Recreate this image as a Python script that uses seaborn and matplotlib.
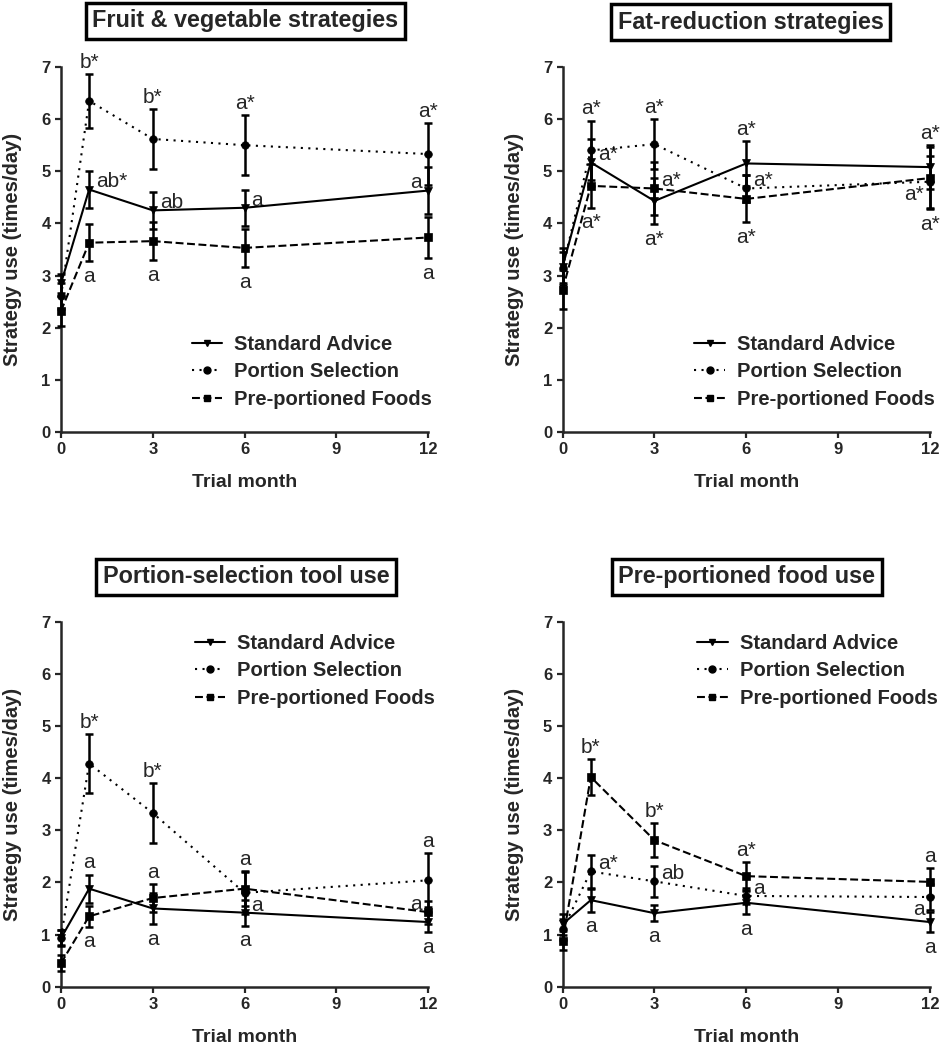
import matplotlib
matplotlib.use("Agg")
import matplotlib.pyplot as plt
from matplotlib.lines import Line2D
import pandas as pd
import seaborn as sns

# x positions (trial month), shared by every panel
months = [0, 0.92, 3, 6, 12]
groups = ["Standard Advice", "Portion Selection", "Pre-portioned Foods"]

# Fruit & vegetable strategies
fv_sa = [2.85, 4.65, 4.25, 4.30, 4.63]
fv_sa_err = [0.18, 0.35, 0.35, 0.35, 0.45]
fv_ps = [2.60, 6.35, 5.62, 5.50, 5.33]
fv_ps_err = [0.25, 0.52, 0.57, 0.58, 0.60]
fv_pp = [2.32, 3.63, 3.66, 3.53, 3.73]
fv_pp_err = [0.28, 0.35, 0.37, 0.37, 0.40]

# Fat-reduction strategies
fr_sa = [3.17, 5.17, 4.43, 5.15, 5.08]
fr_sa_err = [0.35, 0.45, 0.45, 0.43, 0.42]
fr_ps = [3.15, 5.40, 5.52, 4.67, 4.80]
fr_ps_err = [0.30, 0.57, 0.48, 0.25, 0.50]
fr_pp = [2.73, 4.72, 4.67, 4.47, 4.87]
fr_pp_err = [0.38, 0.42, 0.50, 0.45, 0.60]

# Portion-selection tool use
pt_sa = [0.93, 1.88, 1.50, 1.42, 1.24]
pt_sa_err = [0.15, 0.27, 0.30, 0.25, 0.20]
pt_ps = [0.94, 4.28, 3.33, 1.80, 2.04]
pt_ps_err = [0.15, 0.57, 0.57, 0.40, 0.52]
pt_pp = [0.45, 1.35, 1.70, 1.88, 1.43]
pt_pp_err = [0.15, 0.20, 0.27, 0.33, 0.22]

# Pre-portioned food use
pf_sa = [1.20, 1.66, 1.41, 1.61, 1.24]
pf_sa_err = [0.20, 0.22, 0.15, 0.22, 0.20]
pf_ps = [1.10, 2.21, 2.02, 1.74, 1.72]
pf_ps_err = [0.20, 0.32, 0.30, 0.15, 0.25]
pf_pp = [0.88, 4.02, 2.81, 2.12, 2.01]
pf_pp_err = [0.18, 0.35, 0.32, 0.27, 0.27]

SA, PS, PP = groups

# significance letters: (month index, text, series it sits next to, where)
fv_letters = [
    (1, "b*", PS, "above"), (2, "b*", PS, "above"), (3, "a*", PS, "above"), (4, "a*", PS, "above"),
    (1, "ab*", SA, "right"), (2, "ab", SA, "right"), (3, "a", SA, "right"), (4, "a", SA, "left"),
    (1, "a", PP, "below"), (2, "a", PP, "below"), (3, "a", PP, "below"), (4, "a", PP, "below"),
]
fr_letters = [
    (1, "a*", PS, "above"), (1, "a*", SA, "right"), (1, "a*", PP, "below"),
    (2, "a*", PS, "above"), (2, "a*", PP, "right"), (2, "a*", SA, "below"),
    (3, "a*", SA, "above"), (3, "a*", PS, "right"), (3, "a*", PP, "below"),
    (4, "a*", SA, "above"), (4, "a*", PS, "lowleft"), (4, "a*", PP, "below"),
]
pt_letters = [
    (1, "b*", PS, "above"), (1, "a", SA, "above"), (1, "a", PP, "below"),
    (2, "b*", PS, "above"), (2, "a", PP, "above"), (2, "a", SA, "below"),
    (3, "a", PP, "above"), (3, "a", SA, "right"), (3, "a", SA, "below"),
    (4, "a", PS, "above"), (4, "a", PP, "left"), (4, "a", SA, "below"),
]
pf_letters = [
    (1, "b*", PP, "above"), (1, "a*", PS, "right"), (1, "a", SA, "below"),
    (2, "b*", PP, "above"), (2, "ab", PS, "right"), (2, "a", SA, "below"),
    (3, "a*", PP, "above"), (3, "a", PS, "right"), (3, "a", SA, "below"),
    (4, "a", PP, "above"), (4, "a", PS, "lowleft"), (4, "a", SA, "below"),
]

titles = ["Fruit & vegetable strategies", "Fat-reduction strategies",
          "Portion-selection tool use", "Pre-portioned food use"]

markers = {SA: "v", PS: "o", PP: "s"}
dashes = {SA: "", PS: (1, 2.6), PP: (3.8, 1.7)}

sns.set_style("ticks")
plt.rcParams["font.family"] = ["Liberation Sans", "DejaVu Sans"]


def panel(ax, series, letters, title, title_xy, legend_loc, legend_anchor):
    rows = []
    for g in groups:
        vals, _ = series[g]
        rows += [{"month": m, "value": v, "group": g} for m, v in zip(months, vals)]
    df = pd.DataFrame(rows)

    sns.lineplot(data=df, x="month", y="value", style="group", style_order=groups,
                 markers=markers, dashes=dashes, color="black", lw=1.5,
                 markersize=5.5, markeredgecolor="black", markeredgewidth=0.5,
                 errorbar=None, legend=False, clip_on=False, ax=ax, zorder=4)
    for g in groups:
        vals, errs = series[g]
        eb = ax.errorbar(months, vals, yerr=errs, fmt="none", ecolor="black",
                         elinewidth=1.8, capsize=2.6, capthick=1.8, zorder=3)
        for art in eb.lines[1] + eb.lines[2]:
            art.set_clip_on(False)

    offsets = {"above": ((0, 4.5), "center", "baseline"),
               "below": ((0, -4), "center", "top"),
               "right": ((5, 1.5), "left", "baseline"),
               "left": ((-5, 1.5), "right", "baseline"),
               "lowleft": ((-4, -13), "right", "baseline")}
    for i, text, g, where in letters:
        vals, errs = series[g]
        y = vals[i]
        if where == "above":
            y = vals[i] + errs[i]
        elif where == "below":
            y = vals[i] - errs[i]
        off, ha, va = offsets[where]
        ax.annotate(text, xy=(months[i], y), xytext=off, textcoords="offset points",
                    ha=ha, va=va, fontsize=15, annotation_clip=False)

    ax.set_xlim(0, 12)
    ax.set_ylim(0, 7)
    ax.set_xticks([0, 3, 6, 9, 12])
    ax.set_yticks(range(8))
    sns.despine(ax=ax)
    for sp in ax.spines.values():
        sp.set_linewidth(1.8)
    ax.tick_params(width=1.6, length=4, labelsize=12)
    for lab in ax.get_xticklabels() + ax.get_yticklabels():
        lab.set_fontweight("bold")
    ax.set_xlabel("Trial month", fontsize=14, fontweight="bold")
    ax.set_ylabel("Strategy use (times/day)", fontsize=14.5, fontweight="bold")
    ax.xaxis.set_label_coords(0.5, -0.115)
    ax.yaxis.set_label_coords(-0.106, 0.5)

    handles = [Line2D([], [], color="black", lw=1.5, marker=markers[g], markersize=5,
                      dashes=dashes[g] if dashes[g] else (None, None)) for g in groups]
    handles[0].set_linestyle("-")
    ax.legend(handles, groups, loc=legend_loc, bbox_to_anchor=legend_anchor,
              frameon=False, handlelength=1.5, handletextpad=0.6, labelspacing=0.42,
              borderpad=0, borderaxespad=0, prop={"weight": "bold", "size": 14.5})

    ax.figure.text(title_xy[0], title_xy[1], title, ha="center", va="center",
                   fontsize=16.8, fontweight="bold",
                   bbox=dict(boxstyle="square,pad=0.28", fc="white", ec="black", lw=2.5))


fig = plt.figure(figsize=(9.44, 10.5), dpi=100)
w, h = 0.389, 0.3476
ax1 = fig.add_axes([0.0646, 0.5886, w, h])
ax2 = fig.add_axes([0.596, 0.5886, w, h])
ax3 = fig.add_axes([0.0646, 0.0603, w, h])
ax4 = fig.add_axes([0.596, 0.0603, w, h])

panel(ax1, {SA: (fv_sa, fv_sa_err), PS: (fv_ps, fv_ps_err), PP: (fv_pp, fv_pp_err)},
      fv_letters, titles[0], (0.26, 0.98), "lower left", (0.357, 0.064))
panel(ax2, {SA: (fr_sa, fr_sa_err), PS: (fr_ps, fr_ps_err), PP: (fr_pp, fr_pp_err)},
      fr_letters, titles[1], (0.795, 0.979), "lower left", (0.359, 0.064))
panel(ax3, {SA: (pt_sa, pt_sa_err), PS: (pt_ps, pt_ps_err), PP: (pt_pp, pt_pp_err)},
      pt_letters, titles[2], (0.2606, 0.4505), "upper left", (0.365, 0.967))
panel(ax4, {SA: (pf_sa, pf_sa_err), PS: (pf_ps, pf_ps_err), PP: (pf_pp, pf_pp_err)},
      pf_letters, titles[3], (0.791, 0.4505), "upper left", (0.367, 0.967))

fig.savefig("out.png", dpi=100)
